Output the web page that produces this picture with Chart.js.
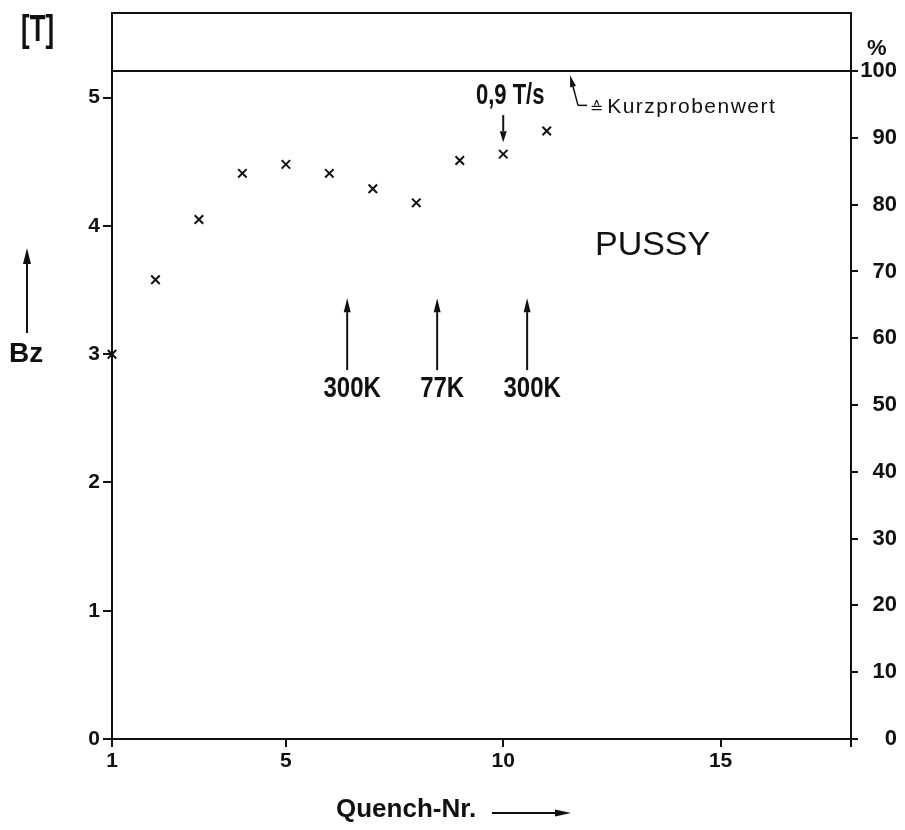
<!DOCTYPE html>
<html>
<head>
<meta charset="utf-8">
<script src="https://cdn.jsdelivr.net/npm/chart.js@4.4.0/dist/chart.umd.min.js"></script>
<style>
  html, body { margin: 0; padding: 0; background: #fff; }
  canvas { display: block; }
</style>
</head>
<body>
<canvas id="quenchChart" width="905" height="830"></canvas>
<script>
// values
const quenchNr = [1, 2, 3, 4, 5, 6, 7, 8, 9, 10, 11];
const bz = [3.0, 3.58, 4.05, 4.41, 4.48, 4.41, 4.29, 4.18, 4.51, 4.56, 4.74];
const xTicks = [1, 5, 10, 15, 18];
const yTicks = [0, 1, 2, 3, 4, 5];
const pctTicks = [0, 10, 20, 30, 40, 50, 60, 70, 80, 90, 100];
const shortSampleT = 5.207;          // Kurzprobenwert (100 %)
const coolAt = [6.41, 8.48, 10.55];
const coolLabels = ['300K', '77K', '300K'];

const yMax = 5.66;
const ink = '#111';
const SANS = '"Liberation Sans", Arial, sans-serif';

function arrow(c, x1, y1, x2, y2, len, w) {
  const a = Math.atan2(y2 - y1, x2 - x1);
  const bx = x2 - len * Math.cos(a), by = y2 - len * Math.sin(a);
  c.beginPath(); c.moveTo(x1, y1); c.lineTo(bx, by); c.stroke();
  c.beginPath();
  c.moveTo(x2, y2);
  c.lineTo(bx + w / 2 * Math.sin(a), by - w / 2 * Math.cos(a));
  c.lineTo(bx - w / 2 * Math.sin(a), by + w / 2 * Math.cos(a));
  c.closePath(); c.fill();
}

// the original lettering is a narrow stencil face, squeeze it a bit
function narrowText(c, txt, x, y, sx) {
  c.save();
  c.translate(x, y);
  c.scale(sx, 1);
  c.fillText(txt, 0, 0);
  c.restore();
}

const noEndPadding = s => { s.paddingTop = 0; s.paddingBottom = 0; };

const notes = {
  id: 'notes',
  afterDraw(chart) {
    const c = chart.ctx, area = chart.chartArea;
    const xs = chart.scales.x, ys = chart.scales.y;
    const X = v => xs.getPixelForValue(v), Y = v => ys.getPixelForValue(v);
    c.save();
    c.strokeStyle = ink; c.fillStyle = ink; c.lineWidth = 2;

    // top frame
    c.beginPath(); c.moveTo(area.left, area.top); c.lineTo(area.right, area.top); c.stroke();

    // axis titles
    c.textBaseline = 'alphabetic';
    c.textAlign = 'left';
    c.font = 'bold 36px ' + SANS;
    narrowText(c, '[T]', 21, 41, 0.72);
    c.font = 'bold 28px ' + SANS;
    c.fillText('Bz', 9, 362);
    arrow(c, 27, 333, 27, 248, 16, 8);
    c.font = 'bold 22px ' + SANS;
    c.fillText('%', 867, 55);
    c.font = 'bold 26px ' + SANS;
    c.fillText('Quench-Nr.', 336, 817);
    arrow(c, 492, 813, 571, 813, 16, 7);

    // cooling cycles
    c.textAlign = 'center';
    c.font = 'bold 30px ' + SANS;
    coolAt.forEach((q, i) => {
      arrow(c, X(q), Y(2.876), X(q), Y(3.437), 14, 7);
      narrowText(c, coolLabels[i], X(q) + 5, Y(2.666), 0.8);
    });

    // ramp rate note
    c.font = 'bold 29px ' + SANS;
    narrowText(c, '0,9 T/s', X(10.16), Y(4.95), 0.76);
    arrow(c, X(10), Y(4.864), X(10), Y(4.653), 11, 7);

    // PUSSY
    c.textAlign = 'left';
    c.font = '34px ' + SANS;
    c.fillText('PUSSY', X(12.11), Y(3.77));

    // short sample value
    c.lineWidth = 1.5;
    c.beginPath();
    c.moveTo(X(11.93), Y(4.94));
    c.lineTo(X(11.72), Y(4.94));
    c.stroke();
    arrow(c, X(11.72), Y(4.94), X(11.536), Y(5.175), 12, 6);
    c.font = '16px "DejaVu Sans", sans-serif';
    c.fillText('\u2259', X(11.99), Y(4.88));
    c.font = '21px ' + SANS;
    c.letterSpacing = '1.5px';
    c.fillText('Kurzprobenwert', X(12.39), Y(4.88));
    c.restore();
  }
};

const ctx = document.getElementById('quenchChart').getContext('2d');
new Chart(ctx, {
  type: 'scatter',
  data: {
    datasets: [{
      label: 'Bz',
      data: quenchNr.map((q, i) => ({ x: q, y: bz[i] })),
      pointStyle: 'crossRot',
      pointRadius: 6,
      borderColor: ink,
      borderWidth: 2,
      clip: false
    }, {
      type: 'line',
      label: '100 %',
      yAxisID: 'y2',
      data: [{ x: 1, y: 100 }, { x: 18, y: 100 }],
      borderColor: ink,
      borderWidth: 2,
      pointRadius: 0
    }]
  },
  options: {
    responsive: false,
    animation: false,
    layout: { padding: { top: 13, right: 8, left: 0, bottom: 0 } },
    plugins: { legend: { display: false }, tooltip: { enabled: false } },
    scales: {
      x: {
        type: 'linear', min: 1, max: 18,
        afterBuildTicks: s => { s.ticks = xTicks.map(v => ({ value: v })); },
        afterFit: s => { s.height = 91; s.paddingLeft = 0; s.paddingRight = 0; },
        border: { display: true, color: ink, width: 2 },
        grid: { drawOnChartArea: false, tickLength: 8, color: ink, lineWidth: 2 },
        ticks: {
          color: ink, padding: 2, maxRotation: 0, autoSkip: false,
          font: { family: SANS, size: 21, weight: 'bold' },
          callback: v => (v === 18 ? '' : v)
        }
      },
      y: {
        position: 'left', min: 0, max: yMax,
        afterBuildTicks: s => { s.ticks = yTicks.map(v => ({ value: v })); },
        afterFit: s => { s.width = 112; noEndPadding(s); },
        border: { display: true, color: ink, width: 2 },
        grid: { drawOnChartArea: false, tickLength: 9, color: ink, lineWidth: 2 },
        ticks: { color: ink, padding: 3, font: { family: SANS, size: 21, weight: 'bold' } }
      },
      y2: {
        position: 'right', min: 0, max: yMax / shortSampleT * 100,
        afterBuildTicks: s => { s.ticks = pctTicks.map(v => ({ value: v })); },
        afterFit: s => { s.width = 46; noEndPadding(s); },
        border: { display: true, color: ink, width: 2 },
        grid: { drawOnChartArea: false, tickLength: 7, color: ink, lineWidth: 2 },
        ticks: { color: ink, crossAlign: 'far', font: { family: SANS, size: 22, weight: 'bold' } }
      }
    }
  },
  plugins: [notes]
});
</script>
</body>
</html>
